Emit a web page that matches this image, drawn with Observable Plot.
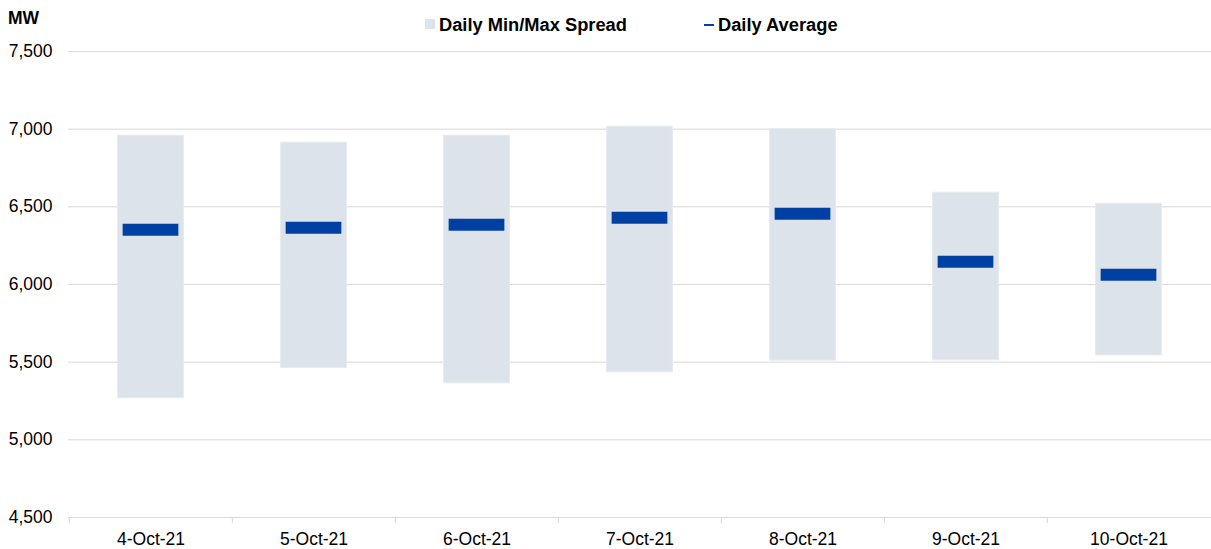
<!DOCTYPE html>
<html>
<head>
<meta charset="utf-8">
<script src="https://cdn.jsdelivr.net/npm/d3@7"></script>
<script src="https://cdn.jsdelivr.net/npm/@observablehq/plot@0.6"></script>
<style>
  html, body { margin: 0; padding: 0; background: #fff; }
  body { width: 1211px; height: 549px; overflow: hidden; font-family: "Liberation Sans", Arial, sans-serif; }
  #header { position: relative; height: 38px; }
  .t { position: absolute; font-size: 17.5px; line-height: 1; font-weight: bold; color: #000; white-space: nowrap; }
  .lg { font-size: 18.3px; }
  .sw { position: absolute; }
</style>
</head>
<body>
<div id="header">
  <span class="t" style="left:8px; top:10px;">MW</span>
  <span class="sw" style="left:425px; top:19px; width:10px; height:10px; background:#dce3ea;"></span>
  <span class="t lg" style="left:439px; top:15.5px;">Daily Min/Max Spread</span>
  <span class="sw" style="left:704px; top:24px; width:10px; height:2px; background:#0040a3;"></span>
  <span class="t lg" style="left:718px; top:15.5px;">Daily Average</span>
</div>
<div id="chart"></div>
<script>
const dates = ["4-Oct-21", "5-Oct-21", "6-Oct-21", "7-Oct-21", "8-Oct-21", "9-Oct-21", "10-Oct-21"];
const minValues = [5268, 5463, 5364, 5435, 5510, 5512, 5544];
const maxValues = [6958, 6913, 6958, 7016, 7001, 6591, 6520];
const avgValues = [6353, 6366, 6385, 6430, 6456, 6147, 6063];
const yTicks = [4500, 5000, 5500, 6000, 6500, 7000, 7500];

const data = dates.map((d, i) => ({date: d, min: minValues[i], max: maxValues[i], avg: avgValues[i]}));

const width = 1211;
const marginLeft = 68;
const marginRight = 0;
const step = (width - marginLeft - marginRight) / dates.length;
const barInset = (step - 66) / 2;
const avgInset = (step - 56) / 2;

const chart = Plot.plot({
  width,
  height: 511,
  marginTop: 13,
  marginBottom: 32,
  marginLeft,
  marginRight,
  style: {fontFamily: "'Liberation Sans', Arial, sans-serif", fontSize: "17.5px", color: "#000", background: "#fff"},
  x: {type: "band", domain: dates, padding: 0, label: null},
  y: {domain: [4500, 7500], label: null},
  marks: [
    Plot.ruleY(yTicks, {stroke: "#d9d9d9", strokeWidth: 1}),
    Plot.barY(data, {x: "date", y1: "min", y2: "max", fill: "#dce3ea", stroke: "#e6ebf0", strokeWidth: 1, insetLeft: barInset, insetRight: barInset}),
    Plot.tickY(data, {x: "date", y: "avg", stroke: "#0040a3", strokeWidth: 12, insetLeft: avgInset, insetRight: avgInset}),
    Plot.ruleX(dates, {x: d => d, y1: 4500, y2: 4500, insetBottom: -6, dx: -step / 2, stroke: "#d9d9d9"}),
    Plot.axisY({ticks: yTicks, tickSize: 0, tickPadding: 16, tickFormat: d3.format(","), fontSize: "17.5px", fill: "#000", label: null}),
    Plot.axisX({tickSize: 0, tickPadding: 15.5, fontSize: "17.5px", fill: "#000", label: null})
  ]
});
document.getElementById("chart").appendChild(chart);
</script>
</body>
</html>
